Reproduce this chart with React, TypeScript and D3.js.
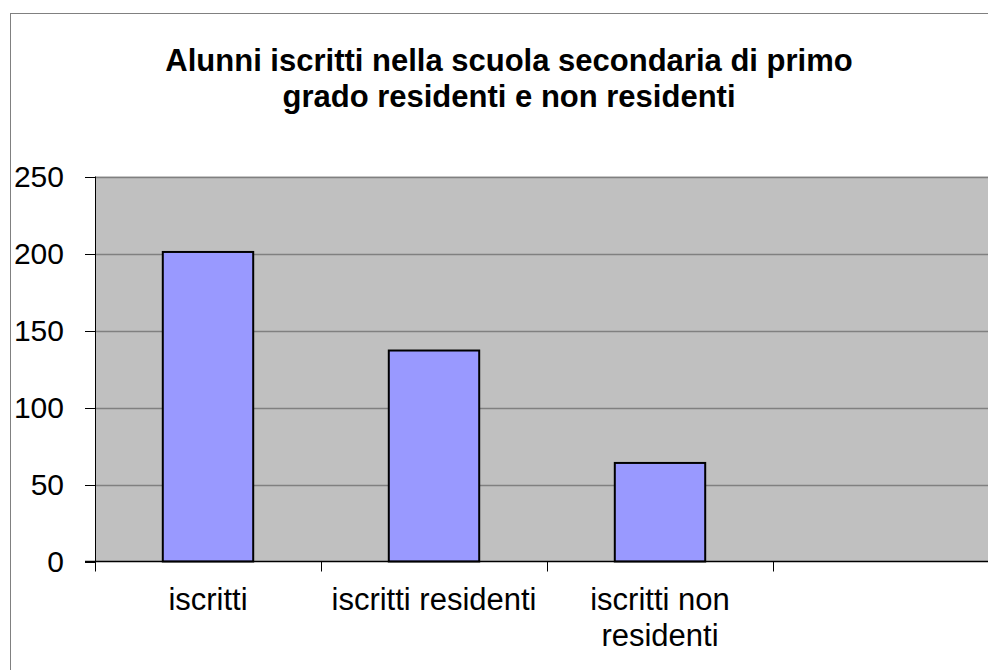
import React from "react";
import * as d3 from "d3";

const categories = ["iscritti", "iscritti residenti", "iscritti non residenti", ""];
const categoryLines = [["iscritti"], ["iscritti residenti"], ["iscritti non", "residenti"], []];
const values = [201, 137, 64, null];
const yTicks = [0, 50, 100, 150, 200, 250];
const titleLines = ["Alunni iscritti nella scuola secondaria di primo", "grado residenti e non residenti"];

export default function App() {
  const W = 988, H = 670;
  const left = 95, right = 999, top = 176.5, bottom = 561.5;
  const x = d3.scaleBand<string>().domain(categories).range([left, right]).paddingInner(0).paddingOuter(0);
  const y = d3.scaleLinear().domain([0, 250]).range([bottom, top]);
  const bw = x.bandwidth() / 2.5;
  const font = "'Liberation Sans', Arial, sans-serif";
  return (
    <svg width={W} height={H} style={{ position: "absolute", left: 0, top: 0 }} fontFamily={font}>
      <rect x={0} y={0} width={W} height={H} fill="#fff" />
      <line x1={10.5} y1={13} x2={10.5} y2={H} stroke="#808080" strokeWidth={1} />
      <line x1={10} y1={13.5} x2={W} y2={13.5} stroke="#808080" strokeWidth={1} />
      {titleLines.map((t, i) => (
        <text key={i} x={509} y={70.7 + i * 36} textAnchor="middle" fontSize={31} fontWeight="bold" fill="#000">{t}</text>
      ))}
      <rect x={left} y={top} width={right - left} height={bottom - top} fill="#C0C0C0" />
      {yTicks.filter(t => t > 0).map(t => (
        <line key={t} x1={left} x2={right} y1={Math.round(y(t)) + 0.5} y2={Math.round(y(t)) + 0.5} stroke="#808080" strokeWidth={1.5} />
      ))}
      {values.map((v, i) => v == null ? null : (
        <rect key={i} x={x(categories[i])! + (x.bandwidth() - bw) / 2} y={y(v)} width={bw} height={bottom - y(v)}
          fill="#9999FF" stroke="#000" strokeWidth={2} />
      ))}
      <line x1={left + 0.5} x2={left + 0.5} y1={top} y2={bottom} stroke="#000" strokeWidth={1} />
      <line x1={left - 10} x2={right} y1={bottom} y2={bottom} stroke="#000" strokeWidth={1.5} />
      {yTicks.map(t => (
        <g key={t}>
          <line x1={left - 10} x2={left} y1={Math.round(y(t)) + 0.5} y2={Math.round(y(t)) + 0.5} stroke="#000" strokeWidth={1} />
          <text x={64} y={y(t) + 10.5} textAnchor="end" fontSize={30} fill="#000">{t}</text>
        </g>
      ))}
      {categories.map((c, i) => (
        <line key={i} x1={Math.round(x(c)!) + 0.5} x2={Math.round(x(c)!) + 0.5} y1={bottom} y2={bottom + 10} stroke="#000" strokeWidth={1} />
      ))}
      {categoryLines.map((lines, i) => lines.map((l, j) => (
        <text key={i + "-" + j} x={x(categories[i])! + x.bandwidth() / 2} y={609.5 + j * 36.5} textAnchor="middle" fontSize={31} fill="#000">{l}</text>
      )))}
    </svg>
  );
}
